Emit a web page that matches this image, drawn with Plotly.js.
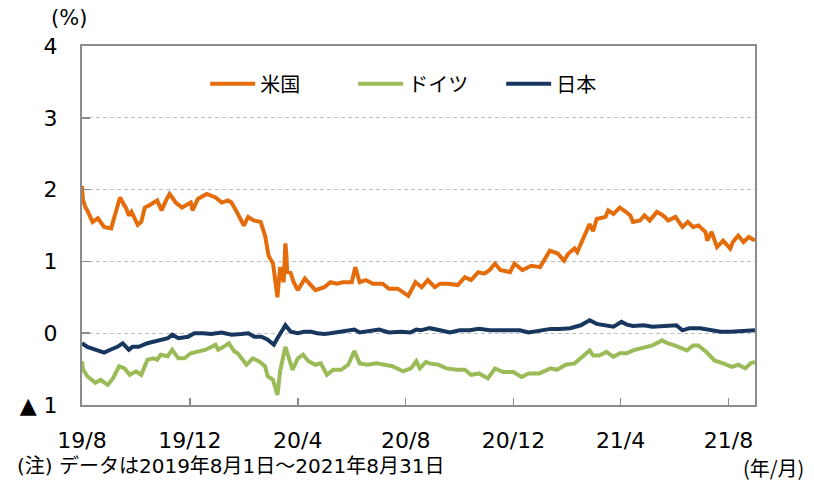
<!DOCTYPE html>
<html><head><meta charset="utf-8">
<script src="https://cdn.plot.ly/plotly-3.0.1.min.js"></script>
<style>html,body{margin:0;padding:0;background:#fff}#chart{width:814px;height:482px}</style>
</head><body><div id="chart"></div>
<script>
// ---- data ----
const seriesNames = ['米国', 'ドイツ', '日本'];
const seriesColors = ['#E46C0A', '#9BBB59', '#17375E'];

const usDates = ['2019-08-01','2019-08-02','2019-08-05','2019-08-07','2019-08-13','2019-08-19','2019-08-26','2019-09-03','2019-09-05','2019-09-13','2019-09-18','2019-09-20','2019-09-23','2019-09-26','2019-10-03','2019-10-07','2019-10-11','2019-10-16','2019-10-25','2019-10-30','2019-11-04','2019-11-08','2019-11-15','2019-11-22','2019-12-02','2019-12-04','2019-12-10','2019-12-20','2019-12-30','2020-01-06','2020-01-13','2020-01-17','2020-01-23','2020-01-31','2020-02-05','2020-02-11','2020-02-19','2020-02-24','2020-02-28','2020-03-04','2020-03-09','2020-03-10','2020-03-12','2020-03-16','2020-03-17','2020-03-18','2020-03-19','2020-03-20','2020-03-24','2020-03-27','2020-04-01','2020-04-09','2020-04-21','2020-05-01','2020-05-08','2020-05-15','2020-05-22','2020-06-01','2020-06-05','2020-06-10','2020-06-17','2020-06-25','2020-07-06','2020-07-13','2020-07-23','2020-08-04','2020-08-12','2020-08-19','2020-08-26','2020-09-03','2020-09-09','2020-09-18','2020-09-29','2020-10-07','2020-10-14','2020-10-22','2020-10-29','2020-11-04','2020-11-10','2020-11-16','2020-11-27','2020-12-02','2020-12-11','2020-12-21','2020-12-31','2021-01-11','2021-01-20','2021-01-27','2021-02-01','2021-02-08','2021-02-11','2021-02-17','2021-02-25','2021-03-01','2021-03-05','2021-03-15','2021-03-18','2021-03-24','2021-03-31','2021-04-07','2021-04-12','2021-04-15','2021-04-23','2021-04-28','2021-05-04','2021-05-12','2021-05-19','2021-05-25','2021-06-02','2021-06-10','2021-06-16','2021-06-22','2021-06-28','2021-07-06','2021-07-08','2021-07-13','2021-07-19','2021-07-26','2021-08-03','2021-08-06','2021-08-12','2021-08-18','2021-08-24','2021-08-31'];
const usYield = [2.05,1.86,1.75,1.71,1.55,1.60,1.48,1.46,1.55,1.89,1.78,1.74,1.64,1.69,1.51,1.55,1.75,1.78,1.85,1.71,1.85,1.94,1.82,1.75,1.82,1.71,1.87,1.94,1.89,1.82,1.85,1.82,1.69,1.50,1.62,1.57,1.55,1.36,1.08,0.97,0.50,0.72,0.92,0.71,1.00,1.25,1.10,0.85,0.84,0.72,0.60,0.76,0.60,0.64,0.71,0.69,0.71,0.71,0.92,0.71,0.74,0.69,0.69,0.62,0.62,0.52,0.71,0.64,0.74,0.64,0.69,0.69,0.67,0.78,0.74,0.85,0.83,0.88,0.97,0.88,0.85,0.97,0.88,0.94,0.92,1.15,1.11,1.01,1.11,1.18,1.13,1.29,1.52,1.42,1.59,1.62,1.71,1.66,1.75,1.69,1.64,1.55,1.57,1.64,1.57,1.69,1.64,1.57,1.62,1.48,1.55,1.48,1.50,1.41,1.29,1.41,1.20,1.29,1.18,1.27,1.36,1.27,1.34,1.29];

const deDates = ['2019-08-01','2019-08-02','2019-08-07','2019-08-13','2019-08-16','2019-08-22','2019-08-30','2019-09-05','2019-09-12','2019-09-18','2019-09-24','2019-10-01','2019-10-07','2019-10-14','2019-10-21','2019-10-25','2019-10-29','2019-11-06','2019-11-11','2019-11-18','2019-11-25','2019-12-02','2019-12-10','2019-12-19','2019-12-30','2020-01-02','2020-01-08','2020-01-14','2020-01-20','2020-01-24','2020-02-03','2020-02-10','2020-02-17','2020-02-24','2020-02-27','2020-03-04','2020-03-09','2020-03-12','2020-03-16','2020-03-18','2020-03-23','2020-03-26','2020-04-01','2020-04-07','2020-04-13','2020-04-21','2020-04-27','2020-05-04','2020-05-11','2020-05-20','2020-05-28','2020-06-04','2020-06-10','2020-06-19','2020-06-29','2020-07-08','2020-07-17','2020-07-29','2020-08-07','2020-08-13','2020-08-17','2020-08-24','2020-08-28','2020-09-07','2020-09-16','2020-09-28','2020-10-07','2020-10-14','2020-10-23','2020-11-02','2020-11-10','2020-11-19','2020-12-01','2020-12-10','2020-12-18','2020-12-30','2021-01-12','2021-01-19','2021-01-29','2021-02-08','2021-02-17','2021-02-25','2021-03-01','2021-03-08','2021-03-16','2021-03-24','2021-03-31','2021-04-08','2021-04-15','2021-04-23','2021-04-30','2021-05-07','2021-05-18','2021-05-24','2021-06-01','2021-06-08','2021-06-15','2021-06-22','2021-06-28','2021-07-07','2021-07-16','2021-07-26','2021-08-05','2021-08-12','2021-08-20','2021-08-26','2021-08-31'];
const deYield = [-0.39,-0.50,-0.60,-0.67,-0.69,-0.65,-0.72,-0.63,-0.46,-0.49,-0.58,-0.53,-0.58,-0.37,-0.35,-0.37,-0.30,-0.32,-0.23,-0.35,-0.35,-0.28,-0.25,-0.23,-0.16,-0.23,-0.19,-0.14,-0.25,-0.28,-0.44,-0.35,-0.39,-0.46,-0.60,-0.65,-0.86,-0.53,-0.30,-0.19,-0.39,-0.51,-0.35,-0.30,-0.39,-0.44,-0.42,-0.58,-0.51,-0.51,-0.44,-0.25,-0.42,-0.44,-0.42,-0.44,-0.46,-0.53,-0.49,-0.39,-0.49,-0.40,-0.42,-0.44,-0.49,-0.51,-0.51,-0.58,-0.56,-0.63,-0.49,-0.54,-0.54,-0.61,-0.56,-0.56,-0.49,-0.51,-0.44,-0.42,-0.33,-0.24,-0.31,-0.31,-0.26,-0.33,-0.28,-0.28,-0.24,-0.21,-0.19,-0.17,-0.10,-0.14,-0.17,-0.21,-0.24,-0.17,-0.17,-0.26,-0.38,-0.42,-0.47,-0.44,-0.49,-0.42,-0.40];

const jpDates = ['2019-08-01','2019-08-07','2019-08-16','2019-08-26','2019-09-02','2019-09-10','2019-09-16','2019-09-23','2019-09-27','2019-10-04','2019-10-14','2019-10-22','2019-10-31','2019-11-06','2019-11-11','2019-11-18','2019-11-29','2019-12-06','2019-12-16','2019-12-25','2020-01-06','2020-01-17','2020-01-28','2020-02-05','2020-02-12','2020-02-20','2020-02-27','2020-03-05','2020-03-09','2020-03-13','2020-03-18','2020-03-24','2020-04-01','2020-04-08','2020-04-16','2020-04-23','2020-05-01','2020-05-08','2020-05-19','2020-06-04','2020-06-10','2020-06-22','2020-07-02','2020-07-13','2020-07-27','2020-08-06','2020-08-13','2020-08-18','2020-08-28','2020-09-09','2020-09-20','2020-10-01','2020-10-12','2020-10-23','2020-11-04','2020-11-16','2020-11-27','2020-12-08','2020-12-18','2020-12-30','2021-01-12','2021-01-22','2021-02-03','2021-02-15','2021-02-22','2021-02-25','2021-03-05','2021-03-16','2021-03-24','2021-04-02','2021-04-08','2021-04-15','2021-04-27','2021-05-07','2021-05-19','2021-06-03','2021-06-10','2021-06-18','2021-06-30','2021-07-12','2021-07-23','2021-08-03','2021-08-13','2021-08-26','2021-08-31'];
const jpYield = [-0.14,-0.19,-0.23,-0.27,-0.23,-0.19,-0.14,-0.23,-0.19,-0.19,-0.14,-0.12,-0.09,-0.07,-0.02,-0.07,-0.05,0.00,0.00,-0.01,0.01,-0.02,-0.01,0.00,-0.05,-0.05,-0.09,-0.16,-0.07,0.02,0.11,0.02,0.00,0.02,0.02,0.00,-0.01,0.00,0.02,0.05,0.01,0.03,0.05,0.01,0.02,0.01,0.05,0.04,0.07,0.04,0.01,0.04,0.04,0.06,0.04,0.04,0.04,0.04,0.01,0.04,0.06,0.06,0.07,0.11,0.15,0.18,0.13,0.11,0.09,0.16,0.12,0.10,0.11,0.09,0.10,0.11,0.04,0.07,0.07,0.04,0.02,0.02,0.03,0.03,0.04];

const xTickDates = ['2019-08-01','2019-12-01','2020-04-01','2020-08-01','2020-12-01','2021-04-01','2021-08-01'];
const xTickLabels = ['19/8','19/12','20/4','20/8','20/12','21/4','21/8'];
const yTickVals = [-1, 0, 1, 2, 3, 4];
const yTickLabels = ['▲ 1', '0', '1', '2', '3', '4'];
const xRange = ['2019-08-01', '2021-08-31'];
const yRange = [-1, 4];

// ---- chart ----
const numFont = 'DejaVu Sans, Verdana, "Noto Sans CJK JP", sans-serif';
const jpFont = '"Noto Sans CJK JP", sans-serif';
const axisGray = '#8C8C8C';

const allDates = [usDates, deDates, jpDates];
const allVals = [usYield, deYield, jpYield];
const traces = seriesNames.map((name, i) => ({
  type: 'scatter', mode: 'lines', name: name,
  x: allDates[i], y: allVals[i],
  line: {color: seriesColors[i], width: 4, shape: 'linear'},
  hoverinfo: 'skip'
}));

const layout = {
  width: 814, height: 482,
  margin: {l: 82, r: 59, t: 46, b: 77},
  paper_bgcolor: '#ffffff', plot_bgcolor: '#ffffff',
  showlegend: true,
  legend: {
    orientation: 'h', x: 0.183, y: 0.895, xanchor: 'left', yanchor: 'middle',
    font: {family: jpFont, size: 20, color: '#000'},
    bgcolor: 'rgba(0,0,0,0)', borderwidth: 0,
    entrywidth: 88, entrywidthmode: 'pixels', itemwidth: 45
  },
  xaxis: {
    type: 'date', range: xRange,
    tickmode: 'array', tickvals: xTickDates, ticktext: xTickLabels,
    ticks: 'inside', ticklen: 7, tickwidth: 1.5, tickcolor: axisGray,
    showgrid: false, zeroline: false,
    showline: true, linecolor: axisGray, linewidth: 2, mirror: true,
    tickfont: {family: numFont, size: 22, color: '#000'},
    ticklabelstandoff: 15, fixedrange: true
  },
  yaxis: {
    range: yRange, tickmode: 'array', tickvals: yTickVals, ticktext: yTickLabels,
    ticks: 'inside', ticklen: 8, tickwidth: 1.5, tickcolor: axisGray,
    showgrid: true, gridcolor: '#BFBFBF', gridwidth: 1, griddash: '4px,3px',
    zeroline: false,
    showline: true, linecolor: axisGray, linewidth: 2, mirror: true,
    tickfont: {family: numFont, size: 22, color: '#000'},
    ticklabelstandoff: 18, fixedrange: true
  },
  annotations: [
    {text: '(%)', xref: 'paper', yref: 'paper', x: -0.019, y: 1.078, xanchor: 'center', yanchor: 'middle',
     showarrow: false, font: {family: numFont, size: 21, color: '#000'}},
    {text: '(年/月)', xref: 'paper', yref: 'paper', x: 1.027, y: -0.175, xanchor: 'center', yanchor: 'middle',
     showarrow: false, font: {family: jpFont, size: 20, color: '#000'}},
    {text: '(注) データは2019年8月1日～2021年8月31日', xref: 'paper', yref: 'paper', x: -0.1, y: -0.21,
     xanchor: 'left', yanchor: 'bottom', showarrow: false, font: {family: numFont, size: 20, color: '#000'}}
  ]
};

Plotly.newPlot('chart', traces, layout, {displayModeBar: false, staticPlot: true});
</script>
</body></html>
